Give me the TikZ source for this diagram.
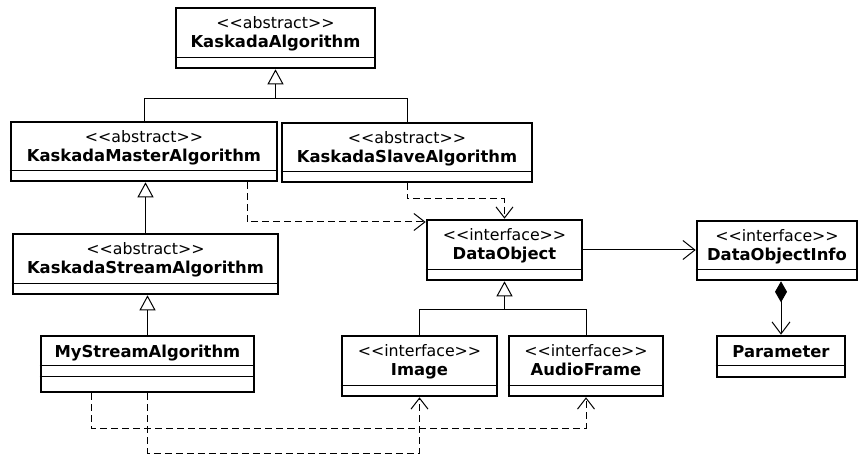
\documentclass[tikz,border=0pt]{standalone}
\usepackage{fontspec}
\setmainfont{DejaVu Sans}
\usetikzlibrary{arrows.meta}

% guillemet-free stereotype brackets
\newcommand{\ltlt}{<\kern0pt<}
\newcommand{\gtgt}{>\kern0pt>}

% class box with stereotype, name and one empty compartment
\newcommand{\umlclass}[7]{%
  \node[classbox, minimum width={#4-#2}, minimum height={#5-#3}] (#1) at ({(#2+#4)/2},{(#3+#5)/2}) {};
  \node[stereo] (#1-st) at ([yshift=-21.5pt]#1.north) {\ltlt#6\gtgt};
  \node[clsname] (#1-nm) at ([yshift=-40.5pt]#1.north) {#7};
  \draw[divider] ([yshift=12pt]#1.south west) -- ([yshift=12pt]#1.south east);
}
% class box with a name only
\newcommand{\umlplain}[6]{%
  \node[classbox, minimum width={#4-#2}, minimum height={#5-#3}] (#1) at ({(#2+#4)/2},{(#3+#5)/2}) {};
  \node[clsname] (#1-nm) at ([yshift=-23pt]#1.north) {#6};
  \draw[divider] ([yshift=-31pt]#1.north west) -- ([yshift=-31pt]#1.north east);
}

\begin{document}
\begin{tikzpicture}[x=1pt,y=-1pt,
  classbox/.style={draw, line width=2.6pt, rectangle, inner sep=0pt, fill=white},
  stereo/.style={anchor=base, inner sep=0pt, font=\fontsize{15.8}{18}\selectfont},
  clsname/.style={anchor=base, inner sep=0pt, font=\bfseries\fontsize{16.4}{18}\selectfont},
  divider/.style={line width=1pt},
  link/.style={line width=1pt},
  gen/.style={link, -{Triangle[open, length=15pt, width=16pt]}},
  dep/.style={link, dash pattern=on 7pt off 4pt, -{Straight Barb[length=11pt, width=17pt]}},
  assoc/.style={link, -{Straight Barb[length=12pt, width=19pt]}},
  comp/.style={link, {Diamond[length=21pt, width=12pt]}-{Straight Barb[length=12pt, width=18pt]}},
]
\useasboundingbox (0,0) rectangle (859,454);

% classes
\umlclass{ka}{176}{8}{375}{68}{abstract}{KaskadaAlgorithm}
\umlclass{master}{11}{122}{277}{181}{abstract}{KaskadaMasterAlgorithm}
\umlclass{slave}{282}{123}{532}{182}{abstract}{KaskadaSlaveAlgorithm}
\umlclass{stream}{13}{234}{278}{294}{abstract}{KaskadaStreamAlgorithm}
\umlclass{dobj}{427}{220}{582}{280}{interface}{DataObject}
\umlclass{doinfo}{697}{221}{857}{280}{interface}{DataObjectInfo}
\umlclass{image}{342}{336}{497}{396}{interface}{Image}
\umlclass{audio}{509}{336}{663}{396}{interface}{AudioFrame}
\umlplain{param}{717}{336}{845}{377}{Parameter}
\umlplain{mystream}{41}{336}{254}{392}{MyStreamAlgorithm}
\draw[divider] ([yshift=-42pt]mystream.north west) -- ([yshift=-42pt]mystream.north east);

% routing helpers
\coordinate (y99) at (0,99);
\coordinate (y199) at (0,199);
\coordinate (y222) at (0,222);
\coordinate (y309) at (0,309);
\coordinate (y428) at (0,428);
\coordinate (y453) at (0,453);
\coordinate (x247) at (247,0);
\coordinate (x91) at (91,0);

% generalizations
\draw[link] (master.north) |- (slave.north |- y99) -- (slave.north);
\draw[gen] (ka.south |- y99) -- (ka.south);
\draw[gen] (stream.north) -- (stream.north |- master.south);
\draw[gen] (mystream.north) -- (mystream.north |- stream.south);
\draw[link] (image.north) |- (audio.north |- y309) -- (audio.north);
\draw[gen] (dobj.south |- y309) -- (dobj.south);

% association and composition
\draw[assoc] (dobj.east) -- (dobj.east -| doinfo.west);
\draw[comp] (param.north |- doinfo.south) -- (param.north);

% dependencies
\draw[dep] (master.south -| x247) |- (dobj.west |- y222);
\draw[dep] (slave.south) -- (slave.south |- y199) -| (dobj.north);
\draw[dep] (mystream.south -| x91) -- (x91 |- y428) -| (audio.south);
\draw[dep] (mystream.south) -- (mystream.south |- y453) -| (image.south);
\end{tikzpicture}
\end{document}
